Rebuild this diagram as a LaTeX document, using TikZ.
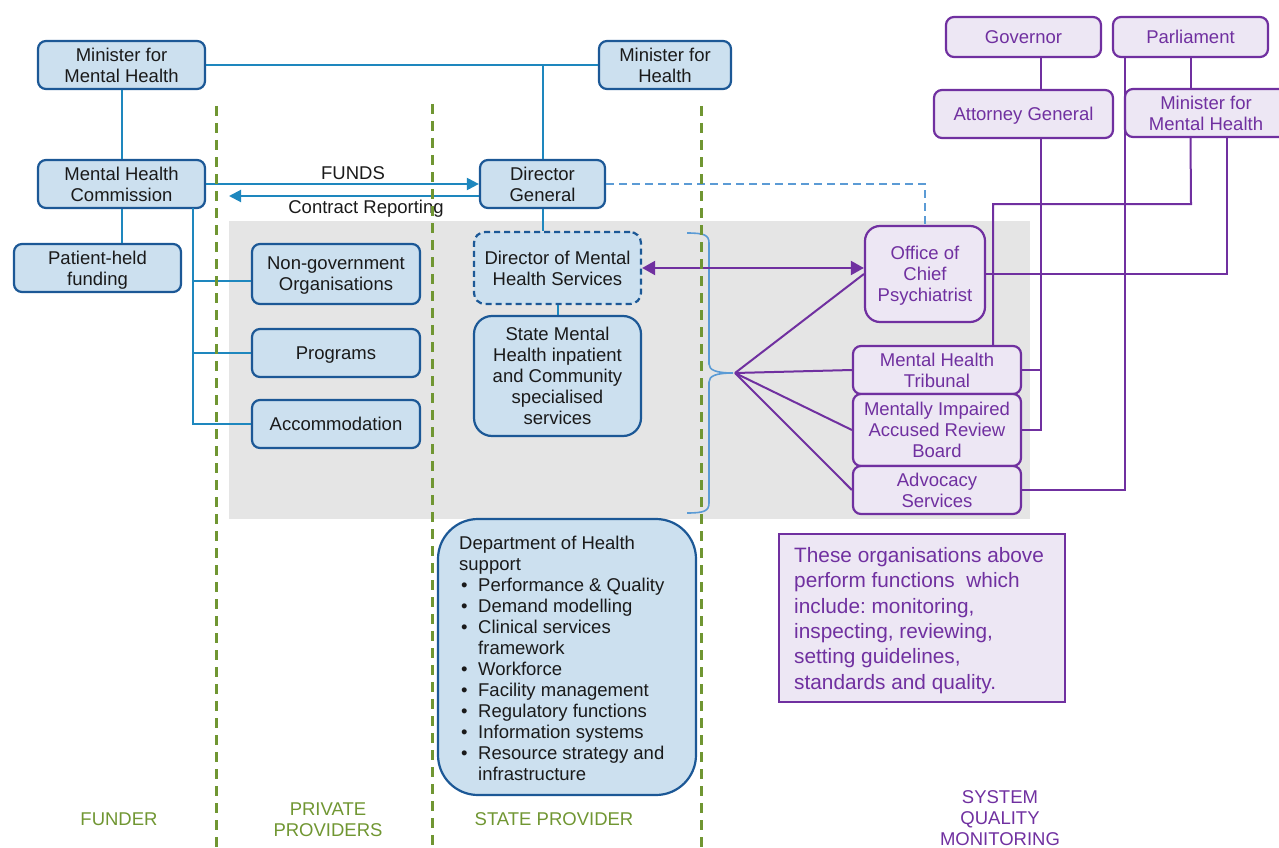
\documentclass[tikz,border=0pt]{standalone}
\usepackage{fontspec}
\setmainfont{Liberation Sans}
\usetikzlibrary{arrows.meta}
\frenchspacing
\definecolor{bfill}{RGB}{204,224,239}
\definecolor{bborder}{RGB}{28,88,150}
\definecolor{bline}{RGB}{30,135,190}
\definecolor{lblue}{RGB}{91,155,213}
\definecolor{pfill}{RGB}{237,231,244}
\definecolor{purp}{RGB}{112,48,160}
\definecolor{grn}{RGB}{112,150,50}
\definecolor{graybg}{RGB}{229,229,229}
\definecolor{txt}{RGB}{26,26,26}
\newcommand\boxfnt{\fontsize{18.5}{21}\selectfont}
\newcommand\notefnt{\fontsize{20.8}{25.4}\selectfont}
\tikzset{
  bbox/.style={draw=bborder, fill=bfill, line width=2.2pt, rounded corners=8pt, align=center, inner sep=0pt, text=txt, font=\boxfnt, text depth=0pt},
  pbox/.style={draw=purp, fill=pfill, line width=2.2pt, rounded corners=8pt, align=center, inner sep=0pt, text=purp, font=\boxfnt, text depth=0pt},
  notebox/.style={draw=purp, fill=pfill, line width=2.2pt, inner sep=0pt},
  blink/.style={draw=bline, line width=2pt},
  plink/.style={draw=purp, line width=2pt},
  glane/.style={draw=grn, line width=3pt, dash pattern=on 10pt off 7pt},
  lbl/.style={inner sep=0pt, text=txt, font=\boxfnt},
  glbl/.style={inner sep=0pt, text=grn, font=\boxfnt, align=center},
  plbl/.style={inner sep=0pt, text=purp, font=\boxfnt, align=center},
  tipb/.style={-{Triangle[length=12pt,width=12pt]}},
}
\begin{document}
\begin{tikzpicture}[x=1pt,y=-1pt]
\useasboundingbox (0,0) rectangle (1279,848);
\fill[graybg] (229,221) rectangle (1030,519);

% blue nodes
\node[bbox, minimum width=167pt, minimum height=48pt] (mmh) at (121.5,65) {Minister for\\Mental Health};
\node[bbox, minimum width=132pt, minimum height=48pt] (mh) at (665,65) {Minister for\\Health};
\node[bbox, minimum width=167pt, minimum height=48pt] (mhc) at (121.5,184) {Mental Health\\Commission};
\node[bbox, minimum width=125pt, minimum height=48pt] (dg) at (542.5,184) {Director\\General};
\node[bbox, minimum width=167pt, minimum height=48pt] (phf) at (97.5,268) {Patient-held\\funding};
\node[bbox, minimum width=168pt, minimum height=60pt] (ngo) at (336,274) {Non-government\\Organisations};
\node[bbox, minimum width=168pt, minimum height=48pt] (prog) at (336,353) {Programs};
\node[bbox, minimum width=168pt, minimum height=48pt] (acc) at (336,424) {Accommodation};
\node[bbox, dash pattern=on 6pt off 4pt, rounded corners=11pt, minimum width=167pt, minimum height=72pt] (dmhs) at (557.5,268) {Director of Mental\\Health Services};
\node[bbox, rounded corners=18pt, minimum width=167pt, minimum height=120pt] (smh) at (557.5,376) {State Mental\\Health inpatient\\and Community\\specialised\\services};
\node[bbox, rounded corners=40pt, minimum width=258pt, minimum height=276pt] (doh) at (567,657) {};
\node[lbl, anchor=north west, align=left] (dohtxt) at (459,536) {Department of Health\\support\\
\makebox[19pt][l]{\hspace{2pt}•}Performance \& Quality\\
\makebox[19pt][l]{\hspace{2pt}•}Demand modelling\\
\makebox[19pt][l]{\hspace{2pt}•}Clinical services\\
\hspace*{19pt}framework\\
\makebox[19pt][l]{\hspace{2pt}•}Workforce\\
\makebox[19pt][l]{\hspace{2pt}•}Facility management\\
\makebox[19pt][l]{\hspace{2pt}•}Regulatory functions\\
\makebox[19pt][l]{\hspace{2pt}•}Information systems\\
\makebox[19pt][l]{\hspace{2pt}•}Resource strategy and\\
\hspace*{19pt}infrastructure};

% purple nodes
\node[pbox, minimum width=155pt, minimum height=40pt] (gov) at (1023.5,37) {Governor};
\node[pbox, minimum width=155pt, minimum height=40pt] (parl) at (1190.5,37) {Parliament};
\node[pbox, minimum width=179pt, minimum height=48pt] (ag) at (1023.5,114) {Attorney General};
\node[pbox, minimum width=162pt, minimum height=48pt] (pmmh) at (1206,113) {Minister for\\Mental Health};
\node[pbox, rounded corners=15pt, minimum width=120pt, minimum height=96pt] (ocp) at (925,274) {Office of\\Chief\\Psychiatrist};
\node[pbox, minimum width=168pt, minimum height=48pt] (mht) at (937,370) {Mental Health\\Tribunal};
\node[pbox, minimum width=168pt, minimum height=72pt] (miarb) at (937,430) {Mentally Impaired\\Accused Review\\Board};
\node[pbox, minimum width=168pt, minimum height=48pt] (adv) at (937,490) {Advocacy\\Services};
\node[notebox, minimum width=286pt, minimum height=168pt] (note) at (922,618) {};
\node[inner sep=0pt, anchor=north west, align=left, text=purp, font=\notefnt] (notetxt) at (794,547) {These organisations above\\perform functions\ \ which\\include: monitoring,\\inspecting, reviewing,\\setting guidelines,\\standards and quality.};

% blue connectors
\draw[blink] (mmh.east) -- (mh.west);
\draw[blink] (dg.north) -- (dg.north |- mmh.east);
\draw[blink] (mmh.south) -- (mhc.north);
\draw[blink] (mhc.south) -- (mhc.south |- phf.north);
\coordinate (fbtop) at (193,208);
\draw[blink] (fbtop) |- (acc.west);
\draw[blink] (fbtop |- prog.west) -- (prog.west);
\draw[blink] (fbtop |- 0,281) -- ([yshift=-7pt]ngo.west);
\draw[blink, tipb] (mhc.east) -- (dg.west);
\coordinate (crend) at (229,196);
\draw[blink, tipb] ([yshift=-12pt]dg.west) -- (crend);
\node[lbl] (funds) at (353,173) {FUNDS};
\node[lbl] (cr) at (366,209) {Contract Reporting};
\draw[blink] (dg.south) -- (dg.south |- dmhs.north);
\draw[blink] (dmhs.south) -- (smh.north);
\draw[draw=lblue, line width=1.8pt, dash pattern=on 8pt off 5pt] (dg.east) -| (ocp.north);

% brace
\draw[draw=lblue, line width=1.6pt] (687,233) .. controls (704,233) and (709,235) .. (709,243) -- (709,364) .. controls (709,370) and (716,373) .. (733,373) .. controls (716,373) and (709,376) .. (709,382) -- (709,503) .. controls (709,511) and (704,513) .. (687,513);

% purple connectors
\draw[plink, {Triangle[length=13pt,width=14pt]}-{Triangle[length=13pt,width=14pt]}] (dmhs.east) -- (dmhs.east -| ocp.west);
\coordinate (fan) at (735,373);
\draw[plink] (fan) -- (ocp.west);
\draw[plink] (fan) -- (mht.west);
\draw[plink] (fan) -- (miarb.west);
\draw[plink] (fan) -- (adv.west);
\draw[plink] ([xshift=17.5pt]gov.south) -- ([xshift=17.5pt]ag.north);
\draw[plink] ([xshift=17.5pt]ag.south) |- (miarb.east);
\draw[plink] (mht.east) -- ++(20,0);
\draw[plink] ([xshift=-65.5pt]parl.south) |- (adv.east);
\draw[plink] (parl.south) -- (parl.south |- pmmh.north);
\coordinate (mbend) at (1191,204);
\draw[plink] (parl.south |- pmmh.south) -- (mbend) -| ([xshift=56pt]mht.north);
\draw[plink] ([xshift=21pt]pmmh.south) |- (ocp.east);

% lanes
\draw[glane] (216,106) -- (216,848);
\draw[glane] (432,104) -- (432,848);
\draw[glane] (701,106) -- (701,848);

% lane labels
\node[glbl] (funder) at (119,819) {FUNDER};
\node[glbl] (priv) at (328,820) {PRIVATE\\PROVIDERS};
\node[glbl] (state) at (554,819) {STATE PROVIDER};
\node[plbl] (sqm) at (1000,818) {SYSTEM\\QUALITY\\MONITORING};
\end{tikzpicture}
\end{document}
